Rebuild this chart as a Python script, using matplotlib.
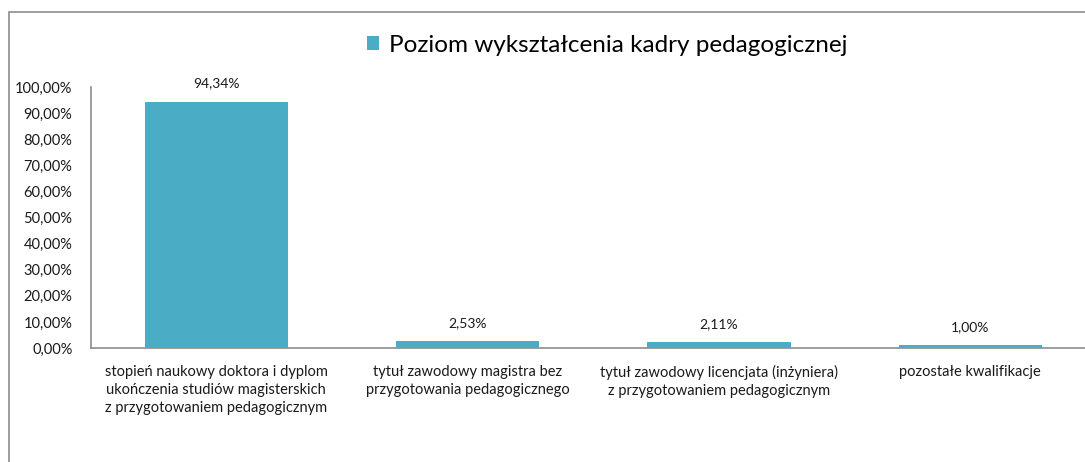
import matplotlib
matplotlib.use("Agg")
import matplotlib.pyplot as plt
from matplotlib.patches import Rectangle

categories = [
    "stopień naukowy doktora i dyplom\nukończenia studiów magisterskich\nz przygotowaniem pedagogicznym",
    "tytuł zawodowy magistra bez\nprzygotowania pedagogicznego",
    "tytuł zawodowy licencjata (inżyniera)\nz przygotowaniem pedagogicznym",
    "pozostałe kwalifikacje",
]
values = [94.34, 2.53, 2.11, 1.00]
series_name = "Poziom wykształcenia kadry pedagogicznej"
yticks = [0, 10, 20, 30, 40, 50, 60, 70, 80, 90, 100]

plt.rcParams['font.family'] = ['Lato', 'DejaVu Sans']
W, H = 1085, 462
fig = plt.figure(figsize=(W / 100, H / 100), dpi=100)

# outer chart border
fig.patches.append(Rectangle((9 / W, -0.05), 1.2, (H - 12) / H + 0.05,
                             transform=fig.transFigure, fill=False,
                             edgecolor="#8c8c8c", linewidth=1.2))

ax = fig.add_axes([90.5 / W, 1 - 348 / H, (1096 - 90.5) / W, (348 - 87) / H])
color = "#4BACC6"
x = list(range(len(categories)))
bars = ax.bar(x, values, width=0.57, color=color, label=series_name, zorder=3)

ax.set_xlim(-0.5, len(categories) - 0.5)
ax.set_ylim(0, 100)
ax.set_yticks(yticks)
ax.set_yticklabels([f"{v:.2f}%".replace(".", ",") for v in yticks], fontsize=10.5, color="#1a1a1a")
ax.set_xticks(x)
ax.set_xticklabels(categories, fontsize=10.5, color="#1a1a1a", linespacing=1.4)
ax.tick_params(axis="y", length=0, pad=13)
ax.tick_params(axis="x", length=0, pad=12)

for s in ["top", "right"]:
    ax.spines[s].set_visible(False)
for s in ["left", "bottom"]:
    ax.spines[s].set_color("#8c8c8c")
    ax.spines[s].set_linewidth(1.2)

for xi, v in zip(x, values):
    ax.annotate(f"{v:.2f}%".replace(".", ","), (xi, v), xytext=(0, 9),
                textcoords="offset points", ha="center", va="bottom",
                fontsize=10, color="#1a1a1a")

fig.legend(handles=[bars], labels=[series_name], loc="center",
           bbox_to_anchor=(607 / W, 1 - 45 / H), frameon=False,
           fontsize=17.5, handlelength=0.5, handleheight=0.5, handletextpad=0.4)

fig.savefig("out.png", dpi=100)
